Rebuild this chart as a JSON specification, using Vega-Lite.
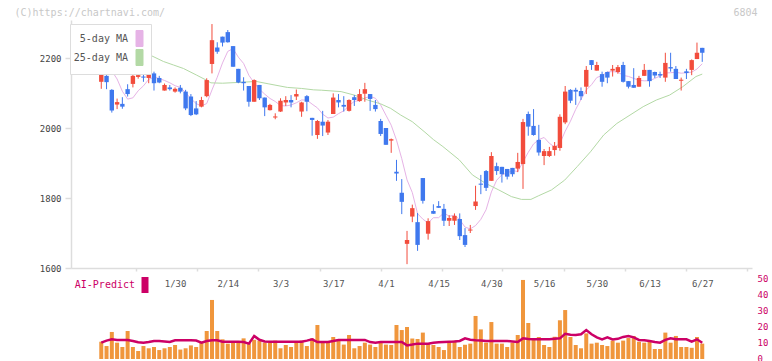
{
"$schema":"https://vega.github.io/schema/vega-lite/v6.json",
"background":"white",
"padding":{"left":14,"top":7,"right":0,"bottom":0},
"config":{"view":{"stroke":null},"font":"DejaVu Sans Mono","axisRight":{"labelOverlap":false}},
"datasets":{
"candles":[
{"i":0,"o":2173,"h":2176,"l":2172,"c":2176},
{"i":1,"o":2132,"h":2169,"l":2112,"c":2154,"v":10.8,"ai":10.2},
{"i":2,"o":2149,"h":2151,"l":2111,"c":2131,"v":8.1,"ai":11.5},
{"i":3,"o":2109,"h":2111,"l":2044,"c":2050,"v":16.9,"ai":12.3},
{"i":4,"o":2067,"h":2084,"l":2054,"c":2074,"v":10.2,"ai":11.9},
{"i":5,"o":2069,"h":2088,"l":2055,"c":2061,"v":7.5,"ai":11.9},
{"i":6,"o":2111,"h":2125,"l":2090,"c":2097,"v":17.5,"ai":11.9},
{"i":7,"o":2126,"h":2169,"l":2116,"c":2149,"v":7.5,"ai":11.3},
{"i":8,"o":2146,"h":2168,"l":2141,"c":2151,"v":5,"ai":10.5},
{"i":9,"o":2147,"h":2158,"l":2132,"c":2144,"v":8.1,"ai":10.2},
{"i":10,"o":2143,"h":2161,"l":2128,"c":2154,"v":6.7,"ai":10.6},
{"i":11,"o":2156,"h":2161,"l":2107,"c":2128,"v":7.5,"ai":11.3},
{"i":12,"o":2143,"h":2149,"l":2128,"c":2130,"v":5.6,"ai":11.3},
{"i":13,"o":2107,"h":2127,"l":2107,"c":2123,"v":6.7,"ai":11.0},
{"i":14,"o":2116,"h":2123,"l":2107,"c":2111,"v":7.5,"ai":10.6},
{"i":15,"o":2104,"h":2116,"l":2101,"c":2112,"v":8.75,"ai":11.7},
{"i":16,"o":2115,"h":2123,"l":2099,"c":2104,"v":5.9,"ai":11.7},
{"i":17,"o":2104,"h":2109,"l":2051,"c":2056,"v":6.7,"ai":11.7},
{"i":18,"o":2090,"h":2097,"l":2034,"c":2037,"v":8.5,"ai":11.7},
{"i":19,"o":2056,"h":2077,"l":2037,"c":2039,"v":7.5,"ai":11.5},
{"i":20,"o":2061,"h":2089,"l":2059,"c":2080,"v":10.2,"ai":10.2},
{"i":21,"o":2091,"h":2142,"l":2088,"c":2137,"v":17.5,"ai":11.2},
{"i":22,"o":2183,"h":2297,"l":2156,"c":2251,"v":36.9,"ai":11.7},
{"i":23,"o":2230,"h":2245,"l":2212,"c":2218,"v":17.5,"ai":11.7},
{"i":24,"o":2261,"h":2261,"l":2233,"c":2244,"v":12.3,"ai":10.8},
{"i":25,"o":2274,"h":2280,"l":2244,"c":2245,"v":9.6,"ai":10.8},
{"i":26,"o":2234,"h":2234,"l":2175,"c":2175,"v":10.2,"ai":10.8},
{"i":27,"o":2169,"h":2169,"l":2128,"c":2130,"v":10.8,"ai":10.8},
{"i":28,"o":2132,"h":2145,"l":2107,"c":2128,"v":12.9,"ai":10.6},
{"i":29,"o":2120,"h":2120,"l":2061,"c":2075,"v":10.2,"ai":9.6},
{"i":30,"o":2075,"h":2139,"l":2075,"c":2137,"v":12,"ai":14.4},
{"i":31,"o":2123,"h":2123,"l":2080,"c":2085,"v":11.5,"ai":12},
{"i":32,"o":2087,"h":2087,"l":2034,"c":2059,"v":10.2,"ai":11},
{"i":33,"o":2051,"h":2069,"l":2050,"c":2066,"v":10.2,"ai":10.8},
{"i":34,"o":2030,"h":2042,"l":2025,"c":2033,"v":11.5,"ai":10.8},
{"i":35,"o":2047,"h":2085,"l":2046,"c":2078,"v":6.7,"ai":10.8},
{"i":36,"o":2073,"h":2091,"l":2063,"c":2080,"v":8.75,"ai":10.8},
{"i":37,"o":2080,"h":2094,"l":2059,"c":2073,"v":7.5,"ai":10.8},
{"i":38,"o":2090,"h":2110,"l":2080,"c":2097,"v":10.2,"ai":10.8},
{"i":39,"o":2047,"h":2075,"l":2032,"c":2073,"v":11.5,"ai":10.8},
{"i":40,"o":2091,"h":2094,"l":2048,"c":2075,"v":8.1,"ai":11.5},
{"i":41,"o":2029,"h":2029,"l":1978,"c":2023,"v":12.9,"ai":12.3},
{"i":42,"o":1980,"h":2023,"l":1969,"c":2020,"v":21.25,"ai":10.6},
{"i":43,"o":2018,"h":2049,"l":1977,"c":2007,"v":10.2,"ai":10.6},
{"i":44,"o":1987,"h":2023,"l":1980,"c":2018,"v":10.2,"ai":10.6},
{"i":45,"o":2040,"h":2099,"l":2040,"c":2087,"v":13.75,"ai":11.2},
{"i":46,"o":2080,"h":2097,"l":2059,"c":2073,"v":12,"ai":11.9},
{"i":47,"o":2066,"h":2091,"l":2047,"c":2061,"v":9,"ai":11.9},
{"i":48,"o":2049,"h":2082,"l":2047,"c":2080,"v":15,"ai":11.9},
{"i":49,"o":2088,"h":2094,"l":2063,"c":2080,"v":6.7,"ai":11.9},
{"i":50,"o":2077,"h":2111,"l":2075,"c":2097,"v":8.1,"ai":11.9},
{"i":51,"o":2098,"h":2129,"l":2075,"c":2111,"v":10.2,"ai":11.9},
{"i":52,"o":2097,"h":2097,"l":2049,"c":2083,"v":9,"ai":10.6},
{"i":53,"o":2066,"h":2080,"l":2047,"c":2054,"v":7.5,"ai":10.2},
{"i":54,"o":2020,"h":2026,"l":1977,"c":1983,"v":10.2,"ai":10.6},
{"i":55,"o":2000,"h":2000,"l":1952,"c":1952,"v":9,"ai":10.6},
{"i":56,"o":1964,"h":1970,"l":1929,"c":1968,"v":8.75,"ai":10.6},
{"i":57,"o":1875,"h":1909,"l":1849,"c":1870,"v":21.25,"ai":10.6},
{"i":58,"o":1815,"h":1854,"l":1754,"c":1789,"v":18.1,"ai":10.6},
{"i":59,"o":1669,"h":1706,"l":1611,"c":1680,"v":20,"ai":8.5},
{"i":60,"o":1747,"h":1781,"l":1731,"c":1771,"v":12.8,"ai":9.0},
{"i":61,"o":1731,"h":1757,"l":1649,"c":1666,"v":12.5,"ai":9.6},
{"i":62,"o":1857,"h":1857,"l":1784,"c":1792,"v":16.5,"ai":9.6},
{"i":63,"o":1698,"h":1742,"l":1681,"c":1734,"v":9.6,"ai":9.6},
{"i":64,"o":1763,"h":1782,"l":1755,"c":1755,"v":8.75,"ai":10.1},
{"i":65,"o":1777,"h":1791,"l":1772,"c":1772,"v":7.5,"ai":10.4},
{"i":66,"o":1769,"h":1783,"l":1720,"c":1735,"v":5.6,"ai":10.6},
{"i":67,"o":1735,"h":1751,"l":1720,"c":1743,"v":10.4,"ai":10.8},
{"i":68,"o":1735,"h":1756,"l":1723,"c":1749,"v":11.5,"ai":11.0},
{"i":69,"o":1740,"h":1756,"l":1680,"c":1691,"v":7.5,"ai":11.3},
{"i":70,"o":1694,"h":1714,"l":1660,"c":1666,"v":8.9,"ai":12.9},
{"i":71,"o":1707,"h":1723,"l":1700,"c":1710,"v":9.6,"ai":12.0},
{"i":72,"o":1777,"h":1835,"l":1766,"c":1790,"v":26.9,"ai":11.7},
{"i":73,"o":1841,"h":1866,"l":1811,"c":1838,"v":18.5,"ai":11.5},
{"i":74,"o":1877,"h":1880,"l":1820,"c":1829,"v":10.2,"ai":11.3},
{"i":75,"o":1849,"h":1931,"l":1849,"c":1920,"v":23.1,"ai":11.3},
{"i":76,"o":1891,"h":1901,"l":1866,"c":1877,"v":9.6,"ai":11.3},
{"i":77,"o":1889,"h":1889,"l":1844,"c":1868,"v":9.6,"ai":11.3},
{"i":78,"o":1883,"h":1883,"l":1853,"c":1861,"v":7.5,"ai":11.3},
{"i":79,"o":1886,"h":1886,"l":1861,"c":1868,"v":10.2,"ai":11.0},
{"i":80,"o":1884,"h":1929,"l":1874,"c":1903,"v":15,"ai":10.6},
{"i":81,"o":1897,"h":2026,"l":1826,"c":2017,"v":49.4,"ai":12.9},
{"i":82,"o":2040,"h":2047,"l":1978,"c":2004,"v":22.5,"ai":12.5},
{"i":83,"o":2006,"h":2054,"l":1978,"c":1980,"v":13.1,"ai":12.3},
{"i":84,"o":1966,"h":2009,"l":1921,"c":1930,"v":13.75,"ai":12.3},
{"i":85,"o":1920,"h":1940,"l":1894,"c":1934,"v":8.75,"ai":12.3},
{"i":86,"o":1920,"h":1946,"l":1917,"c":1934,"v":7.5,"ai":12.3},
{"i":87,"o":1937,"h":1960,"l":1921,"c":1949,"v":13.9,"ai":12.6},
{"i":88,"o":1943,"h":2039,"l":1935,"c":2032,"v":24.2,"ai":12.9},
{"i":89,"o":2016,"h":2120,"l":2011,"c":2104,"v":30.6,"ai":15.8},
{"i":90,"o":2109,"h":2111,"l":2071,"c":2078,"v":13.75,"ai":15.2},
{"i":91,"o":2109,"h":2115,"l":2066,"c":2104,"v":8.75,"ai":15},
{"i":92,"o":2106,"h":2116,"l":2080,"c":2091,"v":6.7,"ai":15.5},
{"i":93,"o":2118,"h":2177,"l":2097,"c":2166,"v":16,"ai":18.1},
{"i":94,"o":2194,"h":2194,"l":2166,"c":2180,"v":9.6,"ai":15.5},
{"i":95,"o":2164,"h":2189,"l":2164,"c":2180,"v":10.2,"ai":13.5},
{"i":96,"o":2154,"h":2161,"l":2118,"c":2132,"v":8.75,"ai":12.3},
{"i":97,"o":2160,"h":2161,"l":2128,"c":2144,"v":8.1,"ai":13.5},
{"i":98,"o":2164,"h":2180,"l":2147,"c":2169,"v":11.5,"ai":12.2},
{"i":99,"o":2160,"h":2180,"l":2155,"c":2174,"v":10.2,"ai":12.6},
{"i":100,"o":2180,"h":2189,"l":2130,"c":2132,"v":11.5,"ai":13.8},
{"i":101,"o":2134,"h":2134,"l":2113,"c":2118,"v":13.1,"ai":14.4},
{"i":102,"o":2123,"h":2171,"l":2115,"c":2115,"v":14.4,"ai":13.5},
{"i":103,"o":2118,"h":2149,"l":2118,"c":2143,"v":10.8,"ai":11.9},
{"i":104,"o":2149,"h":2183,"l":2149,"c":2166,"v":10.2,"ai":11.7},
{"i":105,"o":2166,"h":2166,"l":2118,"c":2134,"v":11.5,"ai":11.2},
{"i":106,"o":2160,"h":2161,"l":2143,"c":2150,"v":6.25,"ai":10.6},
{"i":107,"o":2154,"h":2161,"l":2143,"c":2150,"v":6.25,"ai":10.2},
{"i":108,"o":2144,"h":2215,"l":2132,"c":2186,"v":16.5,"ai":12.0},
{"i":109,"o":2174,"h":2215,"l":2161,"c":2170,"v":10.2,"ai":12.9},
{"i":110,"o":2169,"h":2177,"l":2140,"c":2140,"v":14.4,"ai":12.3},
{"i":111,"o":2135,"h":2144,"l":2107,"c":2138,"v":7.5,"ai":12.3},
{"i":112,"o":2162,"h":2169,"l":2140,"c":2157,"v":7.5,"ai":12.3},
{"i":113,"o":2166,"h":2196,"l":2151,"c":2194,"v":7,"ai":10.8},
{"i":114,"o":2197,"h":2244,"l":2197,"c":2215,"v":13.75,"ai":12.3},
{"i":115,"o":2229,"h":2229,"l":2189,"c":2215,"v":9.6,"ai":10.2}
],
"ma":[
{"i":3,"v":2163,"s":"5-day MA"},{"i":4,"v":2140,"s":"5-day MA"},{"i":5,"v":2105,"s":"5-day MA"},{"i":6,"v":2082.6,"s":"5-day MA"},{"i":7,"v":2086.2,"s":"5-day MA"},{"i":8,"v":2106.4,"s":"5-day MA"},{"i":9,"v":2120.4,"s":"5-day MA"},{"i":10,"v":2139,"s":"5-day MA"},{"i":11,"v":2145.2,"s":"5-day MA"},{"i":12,"v":2141.4,"s":"5-day MA"},{"i":13,"v":2135.8,"s":"5-day MA"},{"i":14,"v":2129.2,"s":"5-day MA"},{"i":15,"v":2120.8,"s":"5-day MA"},{"i":16,"v":2116,"s":"5-day MA"},{"i":17,"v":2101.2,"s":"5-day MA"},{"i":18,"v":2084,"s":"5-day MA"},{"i":19,"v":2069.6,"s":"5-day MA"},{"i":20,"v":2063.2,"s":"5-day MA"},{"i":21,"v":2069.8,"s":"5-day MA"},{"i":22,"v":2108.8,"s":"5-day MA"},{"i":23,"v":2145,"s":"5-day MA"},{"i":24,"v":2186,"s":"5-day MA"},{"i":25,"v":2219,"s":"5-day MA"},{"i":26,"v":2226.6,"s":"5-day MA"},{"i":27,"v":2202.4,"s":"5-day MA"},{"i":28,"v":2184.4,"s":"5-day MA"},{"i":29,"v":2150.6,"s":"5-day MA"},{"i":30,"v":2129,"s":"5-day MA"},{"i":31,"v":2111,"s":"5-day MA"},{"i":32,"v":2096.8,"s":"5-day MA"},{"i":33,"v":2084.4,"s":"5-day MA"},{"i":34,"v":2075.8,"s":"5-day MA"},{"i":35,"v":2064,"s":"5-day MA"},{"i":36,"v":2063,"s":"5-day MA"},{"i":37,"v":2065.8,"s":"5-day MA"},{"i":38,"v":2072,"s":"5-day MA"},{"i":39,"v":2080.2,"s":"5-day MA"},{"i":40,"v":2079.6,"s":"5-day MA"},{"i":41,"v":2068.2,"s":"5-day MA"},{"i":42,"v":2057.6,"s":"5-day MA"},{"i":43,"v":2039.6,"s":"5-day MA"},{"i":44,"v":2028.6,"s":"5-day MA"},{"i":45,"v":2031,"s":"5-day MA"},{"i":46,"v":2041,"s":"5-day MA"},{"i":47,"v":2049.2,"s":"5-day MA"},{"i":48,"v":2063.8,"s":"5-day MA"},{"i":49,"v":2076.2,"s":"5-day MA"},{"i":50,"v":2078.2,"s":"5-day MA"},{"i":51,"v":2085.8,"s":"5-day MA"},{"i":52,"v":2090.2,"s":"5-day MA"},{"i":53,"v":2085,"s":"5-day MA"},{"i":54,"v":2065.6,"s":"5-day MA"},{"i":55,"v":2036.6,"s":"5-day MA"},{"i":56,"v":2008,"s":"5-day MA"},{"i":57,"v":1965.4,"s":"5-day MA"},{"i":58,"v":1912.4,"s":"5-day MA"},{"i":59,"v":1851.8,"s":"5-day MA"},{"i":60,"v":1815.6,"s":"5-day MA"},{"i":61,"v":1755.2,"s":"5-day MA"},{"i":62,"v":1739.6,"s":"5-day MA"},{"i":63,"v":1728.6,"s":"5-day MA"},{"i":64,"v":1743.6,"s":"5-day MA"},{"i":65,"v":1743.8,"s":"5-day MA"},{"i":66,"v":1757.6,"s":"5-day MA"},{"i":67,"v":1747.8,"s":"5-day MA"},{"i":68,"v":1750.8,"s":"5-day MA"},{"i":69,"v":1738,"s":"5-day MA"},{"i":70,"v":1716.8,"s":"5-day MA"},{"i":71,"v":1711.8,"s":"5-day MA"},{"i":72,"v":1721.2,"s":"5-day MA"},{"i":73,"v":1739,"s":"5-day MA"},{"i":74,"v":1766.6,"s":"5-day MA"},{"i":75,"v":1817.4,"s":"5-day MA"},{"i":76,"v":1850.8,"s":"5-day MA"},{"i":77,"v":1866.4,"s":"5-day MA"},{"i":78,"v":1871,"s":"5-day MA"},{"i":79,"v":1878.8,"s":"5-day MA"},{"i":80,"v":1875.4,"s":"5-day MA"},{"i":81,"v":1903.4,"s":"5-day MA"},{"i":82,"v":1930.6,"s":"5-day MA"},{"i":83,"v":1954.4,"s":"5-day MA"},{"i":84,"v":1966.8,"s":"5-day MA"},{"i":85,"v":1973,"s":"5-day MA"},{"i":86,"v":1956.4,"s":"5-day MA"},{"i":87,"v":1945.4,"s":"5-day MA"},{"i":88,"v":1955.8,"s":"5-day MA"},{"i":89,"v":1990.6,"s":"5-day MA"},{"i":90,"v":2019.4,"s":"5-day MA"},{"i":91,"v":2053.4,"s":"5-day MA"},{"i":92,"v":2081.8,"s":"5-day MA"},{"i":93,"v":2108.6,"s":"5-day MA"},{"i":94,"v":2123.8,"s":"5-day MA"},{"i":95,"v":2144.2,"s":"5-day MA"},{"i":96,"v":2149.8,"s":"5-day MA"},{"i":97,"v":2160.4,"s":"5-day MA"},{"i":98,"v":2161,"s":"5-day MA"},{"i":99,"v":2159.8,"s":"5-day MA"},{"i":100,"v":2150.2,"s":"5-day MA"},{"i":101,"v":2147.4,"s":"5-day MA"},{"i":102,"v":2141.6,"s":"5-day MA"},{"i":103,"v":2136.4,"s":"5-day MA"},{"i":104,"v":2134.8,"s":"5-day MA"},{"i":105,"v":2135.2,"s":"5-day MA"},{"i":106,"v":2141.6,"s":"5-day MA"},{"i":107,"v":2148.6,"s":"5-day MA"},{"i":108,"v":2157.2,"s":"5-day MA"},{"i":109,"v":2158,"s":"5-day MA"},{"i":110,"v":2159.2,"s":"5-day MA"},{"i":111,"v":2156.6,"s":"5-day MA"},{"i":112,"v":2158,"s":"5-day MA"},{"i":113,"v":2159.6,"s":"5-day MA"},{"i":114,"v":2168.6,"s":"5-day MA"},{"i":115,"v":2183.6,"s":"5-day MA"},
{"i":0,"v":2228,"s":"25-day MA"},{"i":5,"v":2218,"s":"25-day MA"},{"i":10.6,"v":2206,"s":"25-day MA"},{"i":12.8,"v":2190,"s":"25-day MA"},{"i":14.7,"v":2180,"s":"25-day MA"},{"i":16.6,"v":2170,"s":"25-day MA"},{"i":19.1,"v":2151,"s":"25-day MA"},{"i":20.9,"v":2137,"s":"25-day MA"},{"i":21.8,"v":2129,"s":"25-day MA"},{"i":24,"v":2128,"s":"25-day MA"},{"i":26.7,"v":2130,"s":"25-day MA"},{"i":30.4,"v":2133,"s":"25-day MA"},{"i":32.8,"v":2126,"s":"25-day MA"},{"i":36.3,"v":2116,"s":"25-day MA"},{"i":39,"v":2113,"s":"25-day MA"},{"i":41.3,"v":2109,"s":"25-day MA"},{"i":42.8,"v":2108,"s":"25-day MA"},{"i":46.5,"v":2104,"s":"25-day MA"},{"i":49,"v":2094,"s":"25-day MA"},{"i":51.5,"v":2080,"s":"25-day MA"},{"i":54,"v":2069,"s":"25-day MA"},{"i":55.9,"v":2056,"s":"25-day MA"},{"i":57.8,"v":2037,"s":"25-day MA"},{"i":60,"v":2018,"s":"25-day MA"},{"i":62.4,"v":1988,"s":"25-day MA"},{"i":64,"v":1967,"s":"25-day MA"},{"i":65.8,"v":1947,"s":"25-day MA"},{"i":68.9,"v":1909,"s":"25-day MA"},{"i":71.4,"v":1866,"s":"25-day MA"},{"i":73.9,"v":1842,"s":"25-day MA"},{"i":76.4,"v":1823,"s":"25-day MA"},{"i":78.8,"v":1804,"s":"25-day MA"},{"i":80.7,"v":1796,"s":"25-day MA"},{"i":82.5,"v":1796,"s":"25-day MA"},{"i":83.9,"v":1806,"s":"25-day MA"},{"i":86.4,"v":1823,"s":"25-day MA"},{"i":88.9,"v":1851,"s":"25-day MA"},{"i":91.3,"v":1890,"s":"25-day MA"},{"i":93.8,"v":1932,"s":"25-day MA"},{"i":96.3,"v":1980,"s":"25-day MA"},{"i":98.8,"v":2013,"s":"25-day MA"},{"i":101.3,"v":2037,"s":"25-day MA"},{"i":103.8,"v":2061,"s":"25-day MA"},{"i":106.3,"v":2080,"s":"25-day MA"},{"i":108.8,"v":2094,"s":"25-day MA"},{"i":111.3,"v":2118,"s":"25-day MA"},{"i":113.8,"v":2147,"s":"25-day MA"},{"i":115,"v":2154,"s":"25-day MA"}
]
},
"resolve":{"scale":{"x":"independent","y":"independent","color":"independent"},"legend":{"color":"independent"}},
"spacing":0,
"vconcat":[
{
"width":681,"height":248,
"layer":[
{"data":{"name":"ma"},
 "mark":{"type":"line","strokeWidth":1},
 "encoding":{
  "x":{"field":"i","type":"quantitative","scale":{"domain":[-3.794,123.49],"nice":false,"zero":false},
   "axis":{"values":[7.6,19.2,30.8,42.4,54.0,65.6,77.1,88.7,100.3,111.9,123.5],"labels":false,"grid":false,"domainColor":"#dddddd","domainWidth":1.5,"tickColor":"#dddddd","tickWidth":1.5,"tickSize":3,
   "title":"6804","titleX":686,"titleY":-256,"titleAlign":"right","titleBaseline":"middle","titleAngle":0,"titleFont":"DejaVu Sans Mono","titleFontSize":10,"titleFontWeight":"normal","titleColor":"#c8c8c8","titlePadding":0}},
  "y":{"field":"v","type":"quantitative","scale":{"domain":[1600,2308.6],"nice":false,"zero":false},
   "axis":{"values":[1600,1800,2000,2200],"format":"d","grid":false,"domainColor":"#dddddd","domainWidth":1.5,"tickColor":"#dddddd","tickWidth":1.5,"tickSize":6,"labelPadding":4,"labelFont":"DejaVu Sans Mono","labelFontSize":9,"labelColor":"#444444",
   "title":"(C)https://chartnavi.com/","titleX":-57,"titleY":-8,"titleAlign":"left","titleBaseline":"middle","titleAngle":0,"titleFont":"DejaVu Sans Mono","titleFontSize":10,"titleFontWeight":"normal","titleColor":"#c8c8c8"}},
  "color":{"field":"s","type":"nominal","scale":{"domain":["5-day MA","25-day MA"],"range":["#e6b3e6","#b3d9a5"]},
   "legend":{"orient":"none","legendX":-1,"legendY":4,"title":null,"padding":6,"rowPadding":-4,
    "symbolType":"M-0.4375,-1H0.4375V1H-0.4375Z","symbolSize":256,"symbolStrokeWidth":1,"symbolOffset":55,"labelOffset":-20,"labelAlign":"right",
    "labelFont":"DejaVu Sans Mono","labelFontSize":10,"labelColor":"#555555","fillColor":"white","strokeColor":"#dddddd",
    "encode":{"symbols":{"update":{"fill":{"signal":"datum.value == '5-day MA' ? '#e6b3e6' : '#b3d9a5'"},"stroke":{"value":"#555555"},"strokeWidth":{"value":1},"opacity":{"value":1}}}}}}
 }},
{"data":{"name":"candles"},
 "mark":{"type":"rule","strokeWidth":1},
 "encoding":{
  "x":{"field":"i","type":"quantitative"},
  "y":{"field":"l","type":"quantitative"},
  "y2":{"field":"h"},
  "color":{"condition":{"test":"datum.c >= datum.o","value":"#f24c3c"},"value":"#3f78ee"}
 }},
{"data":{"name":"candles"},
 "mark":{"type":"bar","size":4.4},
 "encoding":{
  "x":{"field":"i","type":"quantitative"},
  "y":{"field":"o","type":"quantitative"},
  "y2":{"field":"c"},
  "color":{"condition":{"test":"datum.c >= datum.o","value":"#f24c3c"},"value":"#3f78ee"}
 }}
]
},
{
"width":681,"height":86,
"data":{"name":"candles"},
"layer":[
{"mark":{"type":"bar","size":4,"color":"#f0963c"},
 "encoding":{
  "x":{"field":"i","type":"quantitative","scale":{"domain":[-3.794,123.49],"nice":false,"zero":false},
   "axis":{"orient":"top","values":[15,25,35,45,55,65,75,85,95,105,115],"labelExpr":"['1/30','2/14','3/3','3/17','4/1','4/15','4/30','5/16','5/30','6/13','6/27'][round((datum.value-15)/10)]","domain":false,"ticks":false,"tickSize":0,"labelPadding":0,"offset":-10,"labelBaseline":"middle","labelFont":"DejaVu Sans Mono","labelFontSize":9,"labelColor":"#555555","title":null,"grid":false}},
  "y":{"field":"v","type":"quantitative","scale":{"domain":[0,53.75],"nice":false},
   "axis":{"orient":"right","values":[0,10,20,30,40,50],"labelOverlap":false,"domain":false,"ticks":false,"labelPadding":5,"labelOffset":-1,"labelColor":"#cc0066","labelFont":"DejaVu Sans Mono","labelFontSize":9,"title":null,"grid":false}}
 }},
{"mark":{"type":"line","strokeWidth":2.5},
 "encoding":{
  "x":{"field":"i","type":"quantitative",
   "axis":{"orient":"top","values":[15,25,35,45,55,65,75,85,95,105,115],"labelExpr":"['1/30','2/14','3/3','3/17','4/1','4/15','4/30','5/16','5/30','6/13','6/27'][round((datum.value-15)/10)]","domain":false,"ticks":false,"tickSize":0,"labelPadding":0,"offset":-10,"labelBaseline":"middle","labelFont":"DejaVu Sans Mono","labelFontSize":9,"labelColor":"#555555","title":null,"grid":false}},
  "y":{"field":"ai","type":"quantitative",
   "axis":{"orient":"right","values":[0,10,20,30,40,50],"labelOverlap":false,"domain":false,"ticks":false,"labelPadding":5,"labelOffset":-1,"labelColor":"#cc0066","labelFont":"DejaVu Sans Mono","labelFontSize":9,"title":null,"grid":false}},
  "color":{"datum":"AI-Predict","type":"nominal","scale":{"range":["#cc0066"]},
   "legend":{"orient":"none","legendX":0,"legendY":4,"title":null,"padding":0,
    "symbolType":"M-0.4375,-1H0.4375V1H-0.4375Z","symbolSize":256,"symbolStrokeWidth":0,"symbolOffset":66,"labelOffset":-18,"labelAlign":"right",
    "labelFont":"DejaVu Sans Mono","labelFontSize":10,"labelColor":"#cc0066",
    "encode":{"symbols":{"update":{"fill":{"value":"#cc0066"},"stroke":{"value":"#cc0066"},"strokeWidth":{"value":0},"opacity":{"value":1}}}}}}
 }}
]
}
]
}
